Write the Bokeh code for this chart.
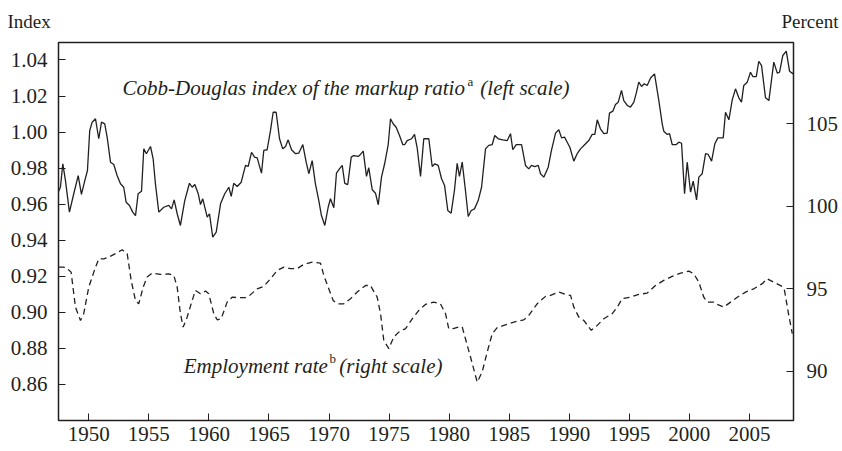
from bokeh.plotting import figure
from bokeh.models import Range1d, LinearAxis, FixedTicker, PrintfTickFormatter, Label
from bokeh.embed import file_html
from bokeh.resources import INLINE

# Cobb-Douglas index of the markup ratio (left scale)
markup_year = [1947.45, 1947.64, 1947.84, 1948.06, 1948.39, 1948.75, 1949.12, 1949.39, 1949.67, 1949.89,
               1950.08, 1950.28, 1950.56, 1950.83, 1951.06, 1951.33, 1951.53, 1951.81, 1952.08, 1952.36,
               1952.64, 1952.91, 1953.11, 1953.39, 1953.66, 1953.89, 1954.11, 1954.39, 1954.58, 1954.80,
               1955.14, 1955.36, 1955.55, 1955.83, 1956.24, 1956.66, 1956.89, 1957.11, 1957.36, 1957.63,
               1957.99, 1958.38, 1958.61, 1958.83, 1959.11, 1959.30, 1959.49, 1959.86, 1960.05, 1960.32,
               1960.61, 1960.97, 1961.32, 1961.66, 1961.86, 1962.07, 1962.36, 1962.69, 1963.05, 1963.27,
               1963.55, 1963.80, 1964.02, 1964.38, 1964.57, 1964.85, 1965.13, 1965.35, 1965.60, 1965.88,
               1966.15, 1966.38, 1966.60, 1966.88, 1967.21, 1967.48, 1967.82, 1968.10, 1968.32, 1968.60,
               1968.87, 1969.15, 1969.37, 1969.65, 1969.93, 1970.12, 1970.40, 1970.62, 1970.87, 1971.10,
               1971.31, 1971.56, 1971.85, 1972.06, 1972.43, 1972.62, 1972.85, 1973.12, 1973.31, 1973.60,
               1973.87, 1974.10, 1974.37, 1974.64, 1974.93, 1975.12, 1975.34, 1975.59, 1975.87, 1976.14,
               1976.31, 1976.51, 1976.87, 1977.12, 1977.34, 1977.62, 1977.89, 1978.31, 1978.59, 1978.81,
               1979.09, 1979.37, 1979.62, 1979.89, 1980.17, 1980.45, 1980.67, 1980.86, 1981.09, 1981.36,
               1981.59, 1981.84, 1982.11, 1982.42, 1982.70, 1983.03, 1983.30, 1983.59, 1983.80, 1984.09,
               1984.47, 1984.84, 1985.11, 1985.30, 1985.59, 1986.03, 1986.36, 1986.63, 1986.86, 1987.13,
               1987.42, 1987.61, 1987.88, 1988.25, 1988.52, 1988.86, 1989.13, 1989.36, 1989.61, 1989.83,
               1990.05, 1990.38, 1990.66, 1990.94, 1991.30, 1991.63, 1991.91, 1992.13, 1992.33, 1992.60,
               1992.88, 1993.16, 1993.35, 1993.63, 1993.85, 1994.08, 1994.35, 1994.54, 1994.83, 1995.10,
               1995.38, 1995.58, 1995.79, 1996.02, 1996.24, 1996.49, 1996.77, 1997.10, 1997.46, 1997.74,
               1997.87, 1998.16, 1998.35, 1998.57, 1998.91, 1999.12, 1999.35, 1999.60, 1999.82, 2000.10,
               2000.32, 2000.60, 2000.79, 2001.07, 2001.35, 2001.57, 2001.85, 2002.12, 2002.37, 2002.82,
               2003.01, 2003.29, 2003.57, 2003.84, 2004.12, 2004.34, 2004.53, 2004.82, 2005.09, 2005.28,
               2005.57, 2005.78, 2006.01, 2006.34, 2006.62, 2007.03, 2007.32, 2007.51, 2007.78, 2008.07,
               2008.34, 2008.65]
markup_index = [0.9667, 0.9694, 0.9824, 0.9731, 0.9556, 0.9658, 0.9759, 0.9654, 0.9731, 0.9787,
                1.0009, 1.0055, 1.0074, 0.9963, 1.0055, 1.0046, 0.9972, 0.9833, 0.9820, 0.9759,
                0.9713, 0.9694, 0.9611, 0.9593, 0.9556, 0.9537, 0.9658, 0.9672, 0.9907, 0.9880,
                0.9920, 0.9852, 0.9713, 0.9556, 0.9583, 0.9593, 0.9574, 0.9624, 0.9547, 0.9482,
                0.9620, 0.9716, 0.9694, 0.9709, 0.9658, 0.9598, 0.9630, 0.9528, 0.9547, 0.9417,
                0.9445, 0.9602, 0.9658, 0.9694, 0.9643, 0.9716, 0.9698, 0.9722, 0.9815, 0.9809,
                0.9888, 0.9861, 0.9857, 0.9772, 0.9898, 0.9902, 1.0009, 1.0110, 1.0110, 0.9963,
                0.9907, 0.9920, 0.9957, 0.9902, 0.9880, 0.9883, 0.9931, 0.9833, 0.9769, 0.9842,
                0.9713, 0.9620, 0.9537, 0.9482, 0.9583, 0.9630, 0.9580, 0.9772, 0.9796, 0.9815,
                0.9716, 0.9709, 0.9861, 0.9870, 0.9865, 0.9876, 0.9894, 0.9754, 0.9802, 0.9680,
                0.9661, 0.9597, 0.9750, 0.9827, 0.9931, 1.0074, 1.0046, 1.0027, 0.9981, 0.9931,
                0.9931, 0.9953, 0.9963, 0.9987, 0.9913, 0.9754, 0.9963, 0.9963, 0.9809, 0.9824,
                0.9815, 0.9741, 0.9704, 0.9565, 0.9550, 0.9680, 0.9827, 0.9754, 0.9833, 0.9676,
                0.9532, 0.9565, 0.9574, 0.9620, 0.9694, 0.9907, 0.9926, 0.9931, 0.9981, 0.9963,
                0.9957, 0.9953, 0.9991, 0.9902, 0.9931, 0.9931, 0.9815, 0.9796, 0.9815, 0.9809,
                0.9815, 0.9769, 0.9750, 0.9805, 0.9898, 0.9994, 1.0013, 0.9968, 0.9972, 0.9944,
                0.9916, 0.9839, 0.9880, 0.9907, 0.9931, 0.9953, 0.9987, 0.9987, 1.0068, 1.0018,
                0.9991, 0.9994, 1.0105, 1.0116, 1.0153, 1.0166, 1.0231, 1.0175, 1.0148, 1.0138,
                1.0166, 1.0216, 1.0277, 1.0253, 1.0268, 1.0259, 1.0300, 1.0323, 1.0175, 1.0046,
                1.0005, 0.9987, 0.9991, 0.9931, 0.9931, 0.9944, 0.9938, 0.9658, 0.9833, 0.9667,
                0.9728, 0.9624, 0.9750, 0.9769, 0.9880, 0.9876, 0.9839, 0.9935, 0.9968, 0.9968,
                1.0110, 1.0068, 1.0179, 1.0240, 1.0190, 1.0166, 1.0259, 1.0277, 1.0332, 1.0308,
                1.0308, 1.0393, 1.0369, 1.0190, 1.0175, 1.0388, 1.0327, 1.0332, 1.0425, 1.0449,
                1.0338, 1.0323]

# Employment rate, percent (right scale)
emp_year = [1947.50, 1947.92, 1948.20, 1948.53, 1948.89, 1949.31, 1949.58, 1950.00, 1950.42, 1950.83,
            1951.25, 1951.67, 1952.22, 1952.78, 1953.20, 1953.53, 1953.89, 1954.16, 1954.53, 1954.86,
            1955.28, 1955.97, 1956.66, 1957.08, 1957.36, 1957.63, 1957.86, 1958.19, 1958.61, 1958.88,
            1959.30, 1959.72, 1959.99, 1960.41, 1960.69, 1961.02, 1961.52, 1961.94, 1962.49, 1963.05,
            1963.40, 1964.02, 1964.57, 1965.13, 1965.69, 1966.24, 1966.79, 1967.35, 1967.90, 1968.60,
            1969.29, 1969.57, 1969.98, 1970.35, 1970.68, 1971.23, 1971.79, 1972.35, 1973.04, 1973.45,
            1974.01, 1974.29, 1974.56, 1974.98, 1975.39, 1975.81, 1976.37, 1976.93, 1977.48, 1978.03,
            1978.72, 1979.28, 1979.70, 1979.97, 1980.34, 1980.81, 1981.09, 1981.36, 1981.78, 1982.34,
            1982.75, 1983.17, 1983.59, 1984.00, 1984.55, 1985.39, 1986.22, 1986.63, 1987.33, 1988.02,
            1988.44, 1989.13, 1989.69, 1990.11, 1990.38, 1990.80, 1991.21, 1991.83, 1992.33, 1992.88,
            1993.58, 1994.00, 1994.41, 1995.10, 1995.79, 1996.49, 1997.18, 1997.87, 1998.57, 1999.27,
            1999.96, 2000.37, 2000.79, 2001.20, 2001.49, 2002.04, 2002.32, 2002.87, 2003.43, 2003.99,
            2004.68, 2005.37, 2006.07, 2006.48, 2007.03, 2007.73, 2007.92, 2008.28, 2008.57]
emp_rate = [96.30, 96.30, 96.21, 96.00, 93.88, 93.07, 93.48, 95.09, 96.00, 96.81,
            96.81, 96.91, 97.12, 97.36, 97.12, 95.50, 94.28, 94.08, 95.09, 95.70,
            95.94, 95.86, 95.90, 95.80, 95.09, 93.48, 92.67, 93.27, 94.28, 94.89,
            94.69, 94.85, 94.69, 93.48, 93.11, 93.17, 94.18, 94.48, 94.45, 94.45,
            94.59, 94.99, 95.13, 95.60, 96.10, 96.30, 96.21, 96.21, 96.47, 96.61,
            96.55, 95.80, 94.99, 94.28, 94.08, 94.08, 94.39, 94.79, 95.19, 95.19,
            94.48, 93.48, 91.86, 91.36, 92.06, 92.36, 92.57, 93.17, 93.68, 94.04,
            94.18, 94.08, 93.48, 92.57, 92.57, 92.67, 92.67, 91.96, 90.85, 89.33,
            89.94, 91.15, 92.27, 92.63, 92.77, 92.97, 93.11, 93.37, 94.08, 94.53,
            94.59, 94.79, 94.65, 94.59, 93.88, 93.27, 93.07, 92.47, 92.77, 93.17,
            93.48, 93.88, 94.39, 94.48, 94.65, 94.73, 95.19, 95.50, 95.74, 95.94,
            96.06, 95.90, 95.39, 94.48, 94.18, 94.18, 94.04, 93.88, 94.18, 94.48,
            94.79, 94.99, 95.30, 95.60, 95.39, 95.13, 94.89, 93.37, 92.27]

x_ticks = [1950, 1955, 1960, 1965, 1970, 1975, 1980, 1985, 1990, 1995, 2000, 2005]
left_ticks = [0.86, 0.88, 0.90, 0.92, 0.94, 0.96, 0.98, 1.00, 1.02, 1.04]
right_ticks = [90, 95, 100, 105]

FONT = "Liberation Serif"
INK = "#231f20"

p = figure(width=842, height=451, output_backend="svg", toolbar_location=None,
           x_range=Range1d(1947.48, 2008.67), y_range=Range1d(0.84, 1.0497),
           min_border_left=58, min_border_right=49, min_border_top=42, min_border_bottom=31,
           background_fill_color="white", border_fill_color="white")
p.extra_y_ranges = {"emp": Range1d(87.0, 109.93)}
p.grid.visible = False
p.outline_line_color = INK
p.outline_line_width = 1.5

p.line(markup_year, markup_index, line_color=INK, line_width=1.3)
p.line(emp_year, emp_rate, y_range_name="emp", line_color=INK, line_width=1.3, line_dash="6 4")

right_axis = LinearAxis(y_range_name="emp")
p.add_layout(right_axis, "right")

p.xaxis.ticker = FixedTicker(ticks=x_ticks)
p.yaxis[0].ticker = FixedTicker(ticks=left_ticks)
p.yaxis[0].formatter = PrintfTickFormatter(format="%.2f")
right_axis.ticker = FixedTicker(ticks=right_ticks)

for ax in [p.xaxis[0], p.yaxis[0], right_axis]:
    ax.major_tick_in = 7
    ax.major_tick_out = 0
    ax.minor_tick_line_color = None
    ax.axis_line_color = INK
    ax.major_tick_line_color = INK
    ax.major_label_text_font = FONT
    ax.major_label_text_font_size = "21px"
    ax.major_label_text_color = INK
p.xaxis[0].major_label_standoff = 6
p.yaxis[0].major_label_standoff = 11
right_axis.major_label_standoff = 13

def lab(x, y, text, size="21px", style="italic", align="left"):
    p.add_layout(Label(x=x, y=y, text=text, text_font=FONT, text_font_size=size,
                       text_font_style=style, text_color=INK, text_align=align,
                       text_baseline="alphabetic"))

lab(1952.81, 1.0244, "Cobb-Douglas index of the markup ratio")
lab(1981.53, 1.0279, "a", size="13px", style="normal")
lab(1982.60, 1.0244, "(left scale)")

lab(1957.91, 0.8700, "Employment rate")
lab(1970.04, 0.8744, "b", size="13px", style="normal")
lab(1970.85, 0.8700, "(right scale)")

# axis unit captions above the frame (screen units, relative to each stacked panel)
for txt, sx, sy, align in [("Index", -51, 21, "left"), ("Percent", 780, 0, "right")]:
    p.add_layout(Label(x=sx, y=sy, x_units="screen", y_units="screen", text=txt,
                       text_font=FONT, text_font_size="19px", text_color=INK,
                       text_align=align, text_baseline="alphabetic"), "above")

open("out.html", "w").write(file_html(p, INLINE))
